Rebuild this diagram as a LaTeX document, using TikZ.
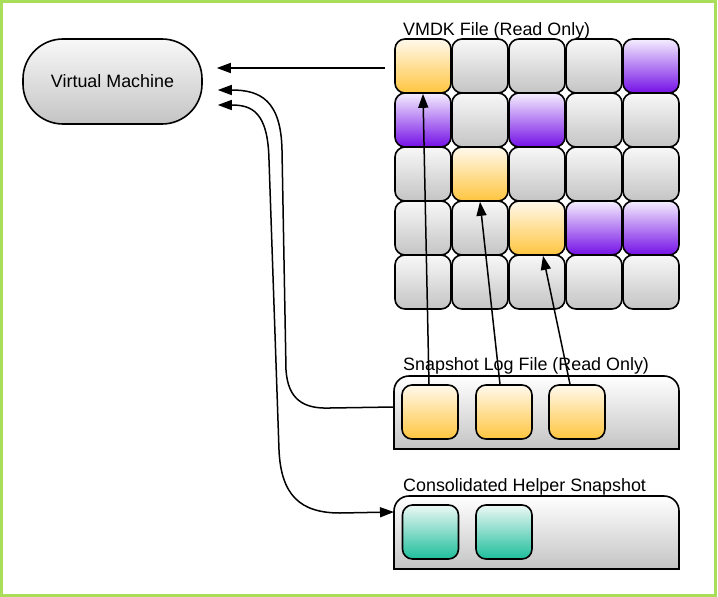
\documentclass[tikz,border=0pt]{standalone}
\usepackage{fontspec}
\setmainfont{Liberation Sans}
\usetikzlibrary{arrows.meta}
\definecolor{gtop}{HTML}{F8F8F8}
\definecolor{gbot}{HTML}{C4C4C4}
\definecolor{otop}{HTML}{FFF9EC}
\definecolor{obot}{HTML}{FFC53F}
\definecolor{ptop}{HTML}{F5EEFF}
\definecolor{pbot}{HTML}{7410E6}
\definecolor{ttop}{HTML}{ECF8F5}
\definecolor{tbot}{HTML}{1EBE9B}
\definecolor{framegreen}{HTML}{A9DE5B}
\tikzset{
  cell/.style={draw=black, line width=1.6pt, rounded corners=10pt, minimum width=56pt, minimum height=54pt, inner sep=0pt},
  gcell/.style={cell, top color=gtop, bottom color=gbot},
  ocell/.style={cell, top color=otop, bottom color=obot},
  pcell/.style={cell, top color=ptop, bottom color=pbot},
  tcell/.style={cell, top color=ttop, bottom color=tbot},
  lbl/.style={anchor=base west, inner sep=0pt, font=\fontsize{17.9}{20}\selectfont},
  boxshade/.style={draw=black, line width=1.6pt, top color=white, bottom color=gbot},
  conn/.style={line width=1.5pt},
  arr/.style={conn, -{Triangle[length=14pt,width=10pt]}},
  darr/.style={conn, {Triangle[length=14pt,width=10pt]}-{Triangle[length=14pt,width=10pt]}},
}
\begin{document}
\begin{tikzpicture}[x=1pt,y=-1pt]
\useasboundingbox (0,0) rectangle (718,597);
\draw[framegreen, line width=3pt] (1.5,1.5) rectangle (715,595.5);

% Virtual machine
\node[draw=black, line width=1.6pt, rounded corners=40pt, minimum width=179pt, minimum height=85pt,
      top color=gtop, bottom color=gbot, font=\fontsize{17.9}{20}\selectfont] (vm) at (112.5,81.5) {Virtual Machine};

% VMDK grid
\node[lbl] (tv) at (403,35.5) {VMDK File (Read Only)};
\foreach \row/\cols in {1/{o,g,g,g,p},2/{p,g,p,g,g},3/{g,o,g,g,g},4/{g,g,o,p,p},5/{g,g,g,g,g}} {
  \foreach \clr [count=\col] in \cols {
    \node[\clr cell] (c\row\col) at ({423+57*(\col-1)}, {66+54*(\row-1)}) {};
  }
}

% Snapshot log box
\path[boxshade] (394,449) -- (394,391) .. controls (394,382.7) and (400.7,376) .. (409,376)
  -- (664,376) .. controls (672.3,376) and (679,382.7) .. (679,391) -- (679,449) -- cycle;
\coordinate (slogW) at (394,407);
\node[lbl] (ts) at (403,370) {Snapshot Log File (Read Only)};
\node[ocell] (s1) at (430,412) {};
\node[ocell] (s2) at (504,412) {};
\node[ocell] (s3) at (577,412) {};

% Helper box
\path[boxshade] (394,569) -- (394,511) .. controls (394,502.7) and (400.7,496) .. (409,496)
  -- (664,496) .. controls (672.3,496) and (679,502.7) .. (679,511) -- (679,569) -- cycle;
\coordinate (helpW) at (394,512);
\node[lbl] (th) at (403,491.5) {Consolidated Helper Snapshot};
\node[tcell] (h1) at (430.5,532) {};
\node[tcell] (h2) at (504,532) {};

% connectors
\draw[arr] ([xshift=-9pt,yshift=-2pt]c11.west) -- ([xshift=14pt,yshift=13.5pt]vm.east);
\draw[arr] ([xshift=-1pt]s1.north) -- (c11.south);
\draw[arr] ([xshift=-4pt]s2.north) -- (c32.south);
\draw[arr] ([xshift=-7pt]s3.north) -- ([xshift=6pt]c43.south);

\draw[arr] (slogW) -- (330,408) .. controls (304,409) and (288,400) .. (286,370)
  -- (282,150) .. controls (281,100) and (260,90) .. ([xshift=15pt,yshift=-8.5pt]vm.east);

\draw[darr] ([xshift=15pt,yshift=-23.5pt]vm.east) .. controls (252,105) and (268,112) .. (269,160)
  -- (279,450) .. controls (281,495) and (300,513) .. (340,513) -- (helpW);
\end{tikzpicture}
\end{document}
